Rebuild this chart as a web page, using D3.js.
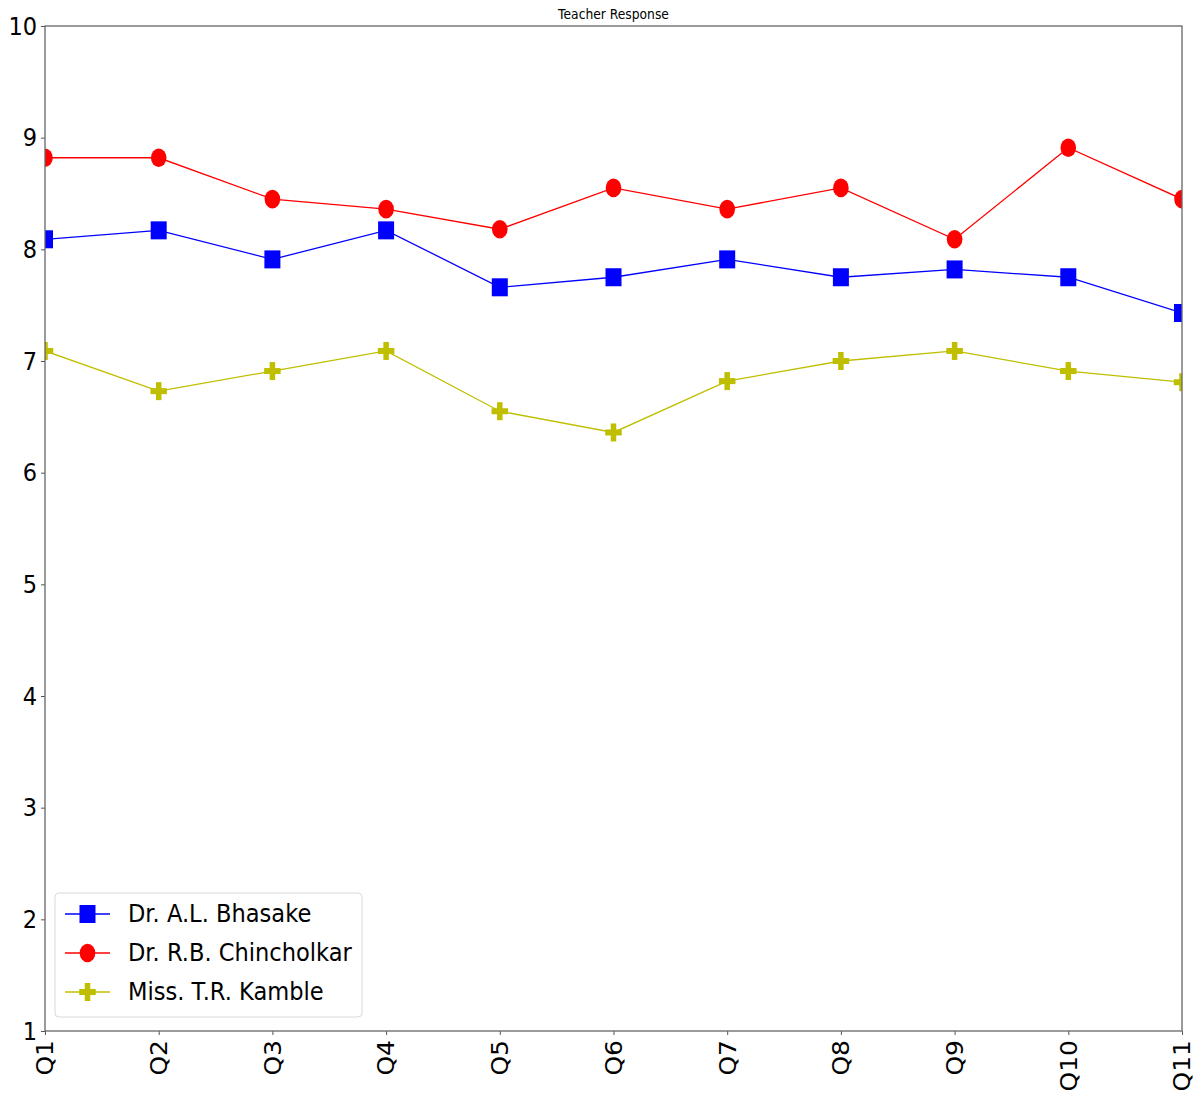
<!DOCTYPE html>
<html>
<head>
<meta charset="utf-8">
<script src="https://cdn.jsdelivr.net/npm/d3@7"></script>
<style>
  html, body { margin: 0; padding: 0; background: #fff; }
  text { font-family: "DejaVu Sans", sans-serif; fill: #000; }
</style>
</head>
<body>
<svg id="chart" width="1203" height="1100"></svg>
<script>
const categories = ["Q1","Q2","Q3","Q4","Q5","Q6","Q7","Q8","Q9","Q10","Q11"];
const bhasake     = [8.09, 8.17, 7.91, 8.17, 7.66, 7.75, 7.91, 7.75, 7.82, 7.75, 7.43];
const chincholkar = [8.82, 8.82, 8.45, 8.36, 8.18, 8.55, 8.36, 8.55, 8.09, 8.91, 8.45];
const kamble      = [7.09, 6.73, 6.91, 7.09, 6.55, 6.36, 6.82, 7.00, 7.09, 6.91, 6.81];
const yTicks = [1,2,3,4,5,6,7,8,9,10];
const seriesNames = ["Dr. A.L. Bhasake", "Dr. R.B. Chincholkar", "Miss. T.R. Kamble"];
const titleText = "Teacher Response";

const series = [
  {name: seriesNames[0], values: bhasake, color: "#0000ff", marker: "square"},
  {name: seriesNames[1], values: chincholkar, color: "#ff0000", marker: "circle"},
  {name: seriesNames[2], values: kamble, color: "#bfbf00", marker: "plus"}
];

const svg = d3.select("#chart");
const L = 45, R = 1182, T = 26, B = 1031;
const SX = 0.9;

const x = d3.scalePoint().domain(categories).range([L, R]).padding(0);
const y = d3.scaleLinear().domain([1, 10]).range([B, T]);

svg.append("defs").append("clipPath").attr("id", "clip")
  .append("rect").attr("x", L).attr("y", T).attr("width", R - L).attr("height", B - T);

function drawMarker(g, type, cx, cy, color) {
  if (type === "square") {
    g.append("rect").attr("x", cx - 8).attr("y", cy - 9).attr("width", 16).attr("height", 18)
      .attr("fill", color);
  } else if (type === "circle") {
    g.append("ellipse").attr("cx", cx).attr("cy", cy).attr("rx", 7.8).attr("ry", 9.3)
      .attr("fill", color);
  } else {
    const w = 16.5, h = 18, t = 5.5, tv = 6;
    g.append("rect").attr("x", cx - w/2).attr("y", cy - tv/2).attr("width", w).attr("height", tv).attr("fill", color);
    g.append("rect").attr("x", cx - t/2).attr("y", cy - h/2).attr("width", t).attr("height", h).attr("fill", color);
  }
}

// data
const plot = svg.append("g").attr("clip-path", "url(#clip)");
const line = d3.line().x((d, i) => x(categories[i])).y(d => y(d));
series.forEach(s => {
  plot.append("path").datum(s.values).attr("d", line)
    .attr("fill", "none").attr("stroke", s.color).attr("stroke-width", 1.3);
  const mg = plot.append("g");
  s.values.forEach((v, i) => drawMarker(mg, s.marker, x(categories[i]), y(v), s.color));
});

// axes
const yAxis = svg.append("g").attr("transform", `translate(${L},0)`)
  .call(d3.axisLeft(y).tickValues(yTicks).tickFormat(d3.format("d")).tickSize(4).tickPadding(4));
yAxis.select(".domain").remove();
yAxis.selectAll(".tick line").attr("stroke", "#555");
yAxis.selectAll(".tick text").each(function() {
  const t = d3.select(this);
  const xx = +t.attr("x");
  t.attr("x", 0).attr("transform", `translate(${xx},0) scale(${SX},1)`);
}).style("font-size", "25px").attr("fill", "#000");

const xAxis = svg.append("g").attr("transform", `translate(0,${B})`)
  .call(d3.axisBottom(x).tickSize(4).tickPadding(6));
xAxis.select(".domain").remove();
xAxis.selectAll(".tick line").attr("stroke", "#555");
xAxis.selectAll(".tick text")
  .attr("x", 0).attr("y", 0).attr("dy", "0.35em")
  .attr("text-anchor", "end")
  .attr("transform", `translate(0,9) rotate(-90) scale(1,${SX})`)
  .style("font-size", "25px").attr("fill", "#000");

// frame
svg.append("rect").attr("x", L).attr("y", T).attr("width", R - L).attr("height", B - T)
  .attr("fill", "none").attr("stroke", "#666").attr("stroke-width", 1.3);

// title
svg.append("text").attr("x", 0).attr("y", 0)
  .attr("transform", `translate(${(L + R) / 2},19) scale(${SX},1)`)
  .attr("text-anchor", "middle").style("font-size", "13.7px").attr("fill", "#222").text(titleText);

// legend
const lg = svg.append("g");
lg.append("rect").attr("x", 55).attr("y", 893).attr("width", 307).attr("height", 124)
  .attr("rx", 4).attr("fill", "#fff").attr("fill-opacity", 0.85).attr("stroke", "#d8d8d8").attr("stroke-width", 1);
series.forEach((s, i) => {
  const cy = 914 + i * 39;
  lg.append("line").attr("x1", 65).attr("x2", 110).attr("y1", cy).attr("y2", cy)
    .attr("stroke", s.color).attr("stroke-width", 1.3);
  drawMarker(lg, s.marker, 87.5, cy, s.color);
  lg.append("text").attr("x", 0).attr("y", 0).attr("dy", "0.35em")
    .attr("transform", `translate(128,${cy}) scale(0.94,1)`)
    .style("font-size", "24px").text(s.name);
});
</script>
</body>
</html>
